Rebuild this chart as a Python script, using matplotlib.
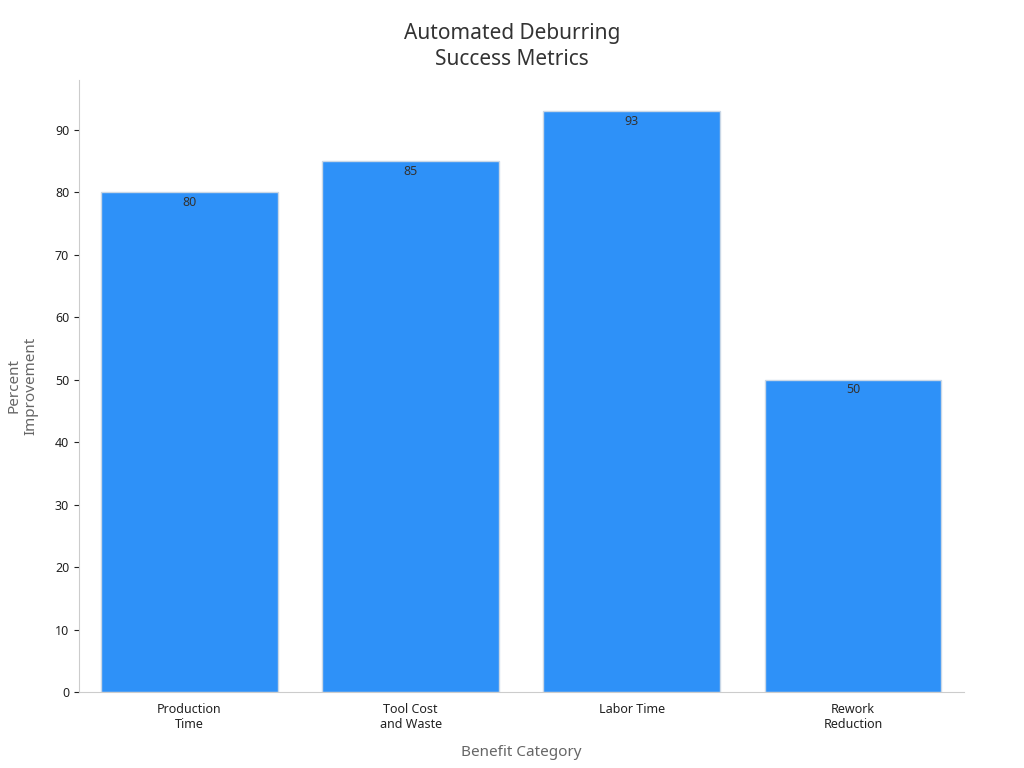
import matplotlib
matplotlib.use("Agg")
import matplotlib.pyplot as plt

categories = ["Production\nTime", "Tool Cost\nand Waste", "Labor Time", "Rework\nReduction"]
values = [80, 85, 93, 50]
yticks = [0, 10, 20, 30, 40, 50, 60, 70, 80, 90]

plt.rcParams['font.family'] = ['Noto Sans', 'DejaVu Sans']
fig = plt.figure(figsize=(10.24, 7.68), dpi=100)
ax = fig.add_axes([0.077, 0.099, 0.864, 0.797])
bars = ax.bar(range(len(values)), values, width=0.8, color="#2e91f8", edgecolor="#c9d7e6", linewidth=1)
for i, v in enumerate(values):
    ax.text(i, v - 0.6, str(v), ha="center", va="top", fontsize=9, color="#333333")
ax.set_xlim(-0.5, 3.5)
ax.set_ylim(0, 98)
ax.set_yticks(yticks)
ax.set_xticks(range(len(values)))
ax.set_xticklabels(categories, fontsize=9, color="#222222")
ax.tick_params(axis='y', labelsize=9, colors="#222222")
ax.tick_params(axis='x', length=0, pad=8)
for s in ["top", "right"]:
    ax.spines[s].set_visible(False)
for s in ["left", "bottom"]:
    ax.spines[s].set_color("#cccccc")
ax.set_xlabel("Benefit Category", fontsize=11, color="#666666", labelpad=10)
ax.set_ylabel("Percent\nImprovement", fontsize=11, color="#666666", labelpad=12)
fig.suptitle("Automated Deburring\nSuccess Metrics", fontsize=15, color="#333333", y=0.97, linespacing=1.3)
fig.savefig("out.png", dpi=100)
